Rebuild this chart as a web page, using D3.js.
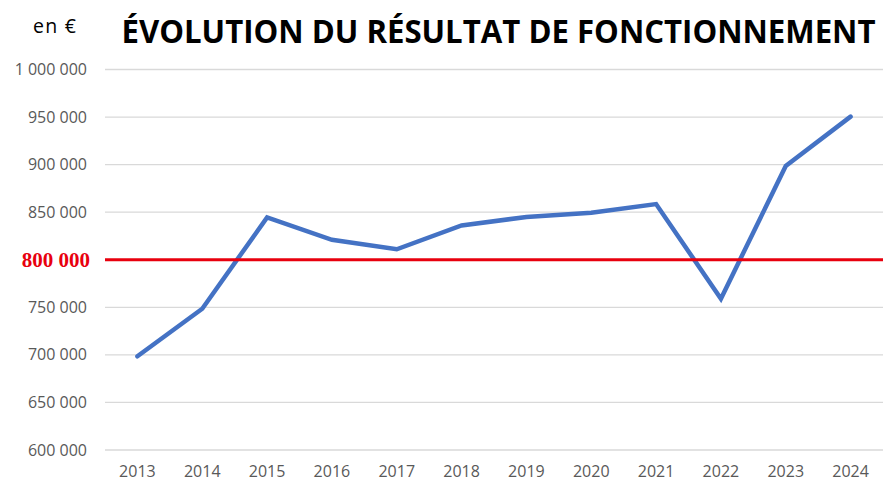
<!DOCTYPE html>
<html><head><meta charset="utf-8">
<script src="https://cdn.jsdelivr.net/npm/d3@7"></script>
<style>body{margin:0;background:#fff}svg{display:block}</style>
</head><body>
<svg id="c" width="883" height="481"></svg>
<script>
const years = ["2013","2014","2015","2016","2017","2018","2019","2020","2021","2022","2023","2024"];
const values = [698500, 748500, 844500, 821000, 811000, 836000, 845000, 849500, 858500, 759000, 898500, 950500];
const yTicks = [600000,650000,700000,750000,800000,850000,900000,950000,1000000];
const threshold = 800000;
const titleText = "ÉVOLUTION DU RÉSULTAT DE FONCTIONNEMENT";
const unitText = "en €";

const svg = d3.select("#c");
const m = {l:105, r:883, t:69.5, b:450};
const x = d3.scaleBand().domain(years).range([m.l, m.r]);
const y = d3.scaleLinear().domain([600000,1000000]).range([m.b, m.t]);
const fmt = v => d3.format(",")(v).replace(/,/g, " ");
const font = "'Open Sans', sans-serif";

// gridlines
svg.append("g").selectAll("line").data(yTicks.filter(t=>t!==threshold)).join("line")
  .attr("x1", m.l).attr("x2", m.r).attr("y1", d=>y(d)).attr("y2", d=>y(d))
  .attr("stroke", "#d9d9d9").attr("stroke-width", 1.3);

// y labels
svg.append("g").selectAll("text").data(yTicks.filter(t=>t!==threshold)).join("text")
  .attr("x", 87).attr("y", d=>y(d)).attr("dy","0.35em").attr("text-anchor","end")
  .attr("font-family", font).attr("font-size", 16).attr("fill", "#595959")
  .text(d=>fmt(d));

// x labels
svg.append("g").selectAll("text").data(years).join("text")
  .attr("x", d=>x(d)+x.bandwidth()/2).attr("y", 476.5).attr("text-anchor","middle")
  .attr("font-family", font).attr("font-size", 16).attr("fill", "#595959")
  .text(d=>d);

// series line
const line = d3.line().x((d,i)=>x(years[i])+x.bandwidth()/2).y(d=>y(d));
svg.append("path").datum(values).attr("d", line).attr("fill","none")
  .attr("stroke", "#4472c4").attr("stroke-width", 4.5).attr("stroke-linejoin","miter").attr("stroke-linecap","round");

// threshold
svg.append("line").attr("x1", m.l).attr("x2", m.r).attr("y1", y(threshold)).attr("y2", y(threshold))
  .attr("stroke", "#e8000e").attr("stroke-width", 2.8);
svg.append("text").attr("x", 90).attr("y", y(threshold)).attr("dy","0.35em").attr("text-anchor","end")
  .attr("font-family", "'Liberation Serif', 'DejaVu Serif', serif").attr("font-weight","bold")
  .attr("font-size", 21).attr("fill", "#e8000e").text(fmt(threshold));

// unit & title
svg.append("text").attr("x", 33).attr("y", 33).attr("font-family", font).attr("font-size", 19.5)
  .attr("fill","#000").attr("textLength", 43).attr("lengthAdjust","spacing").text(unitText);
svg.append("text").attr("x", 121.5).attr("y", 43).attr("font-family", font).attr("font-weight","bold")
  .attr("font-size", 31.5).attr("fill","#000").attr("textLength", 754).attr("lengthAdjust","spacingAndGlyphs").text(titleText);
</script>
</body></html>
